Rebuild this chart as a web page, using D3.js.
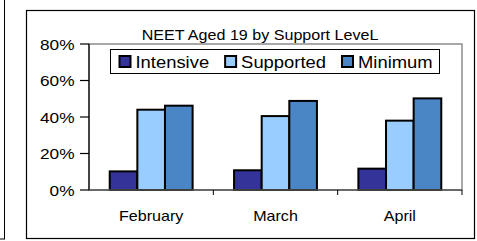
<!DOCTYPE html>
<html>
<head>
<meta charset="utf-8">
<script src="https://cdn.jsdelivr.net/npm/d3@7"></script>
<style>
  html, body { margin: 0; padding: 0; background: #fff; }
  svg { display: block; font-family: "Liberation Sans", Arial, sans-serif; }
</style>
</head>
<body>
<div id="chart"></div>
<script>
// NEET Aged 19 by Support Level - grouped bars

const months = ['February', 'March', 'April'];
const seriesNames = ['Intensive', 'Supported', 'Minimum'];
const intensive = [10.2, 10.8, 11.7];
const supported = [44.0, 40.5, 38.0];
const minimum = [46.2, 48.8, 50.2];
const yTicks = [0, 20, 40, 60, 80];
const titleText = 'NEET Aged 19 by Support LeveL';

const colors = ['#333399', '#99ccff', '#4a86c6'];
const stretch = 1.15; // text in the original is slightly wide

const width = 477, height = 241;
const plot = { left: 89, top: 44, right: 462, bottom: 190 };

const svg = d3.select('#chart').append('svg')
  .attr('width', width)
  .attr('height', height);

// edge of neighbouring chart frame
svg.append('rect')
  .attr('x', -10).attr('y', -10)
  .attr('width', 14.5).attr('height', 249)
  .attr('fill', 'none').attr('stroke', '#000').attr('stroke-width', 1);

// chart frame
svg.append('rect')
  .attr('x', 26.5).attr('y', 10.5)
  .attr('width', 448).attr('height', 228)
  .attr('fill', '#fff').attr('stroke', '#000').attr('stroke-width', 1.2);

const x0 = d3.scaleBand()
  .domain(months)
  .range([plot.left, plot.right])
  .paddingInner(1 / 3)
  .paddingOuter(1 / 6);

const x1 = d3.scaleBand()
  .domain(seriesNames)
  .range([0, x0.bandwidth()]);

const y = d3.scaleLinear()
  .domain([0, 80])
  .range([plot.bottom, plot.top]);

// plot area border (grey)
svg.append('rect')
  .attr('x', plot.left).attr('y', plot.top)
  .attr('width', plot.right - plot.left).attr('height', plot.bottom - plot.top)
  .attr('fill', '#fff').attr('stroke', '#8c8c8c').attr('stroke-width', 1.5);

function stretchedText(g, x, yPos, txt, size, anchor) {
  return g.append('text')
    .attr('transform', `translate(${x},${yPos}) scale(${stretch},1)`)
    .attr('text-anchor', anchor)
    .attr('font-size', size)
    .attr('fill', '#000')
    .text(txt);
}

// bars
const rows = months.map((m, i) => ({
  month: m,
  values: [intensive[i], supported[i], minimum[i]]
}));

const groups = svg.append('g').selectAll('g')
  .data(rows)
  .join('g')
  .attr('transform', d => `translate(${x0(d.month)},0)`);

groups.selectAll('rect')
  .data(d => d.values.map((v, k) => ({ key: seriesNames[k], value: v, k })))
  .join('rect')
  .attr('x', d => x1(d.key))
  .attr('y', d => y(d.value))
  .attr('width', x1.bandwidth())
  .attr('height', d => y(0) - y(d.value))
  .attr('fill', d => colors[d.k])
  .attr('stroke', '#000')
  .attr('stroke-width', 2);

// y axis
const yAxis = svg.append('g');
yAxis.append('line')
  .attr('x1', plot.left).attr('x2', plot.left)
  .attr('y1', plot.top).attr('y2', plot.bottom)
  .attr('stroke', '#000').attr('stroke-width', 1.2);
yAxis.selectAll('line.tick')
  .data(yTicks)
  .join('line')
  .attr('class', 'tick')
  .attr('x1', plot.left - 9).attr('x2', plot.left)
  .attr('y1', d => y(d)).attr('y2', d => y(d))
  .attr('stroke', '#000').attr('stroke-width', 1.2);
yTicks.forEach(t => {
  stretchedText(yAxis, plot.left - 14.5, y(t) + 5.5, t + '%', 15, 'end');
});

// x axis
const xAxis = svg.append('g');
xAxis.append('line')
  .attr('x1', plot.left).attr('x2', plot.right)
  .attr('y1', plot.bottom).attr('y2', plot.bottom)
  .attr('stroke', '#555').attr('stroke-width', 1.5);
const step = x0.step();
xAxis.selectAll('line.tick')
  .data(months)
  .join('line')
  .attr('class', 'tick')
  .attr('x1', (d, i) => plot.left + step * (i + 1))
  .attr('x2', (d, i) => plot.left + step * (i + 1))
  .attr('y1', plot.bottom).attr('y2', plot.bottom + 5)
  .attr('stroke', '#000').attr('stroke-width', 1);
months.forEach(m => {
  stretchedText(xAxis, x0(m) + x0.bandwidth() / 2, 221, m, 14, 'middle');
});

// title
stretchedText(svg, 260, 39.5, titleText, 14, 'middle');

// legend
const legend = svg.append('g');
const legendBox = legend.append('rect')
  .attr('x', 110.5).attr('y', 49.5)
  .attr('width', 329).attr('height', 24)
  .attr('fill', '#fff').attr('stroke', '#000').attr('stroke-width', 1);

let lx = 119.5;
seriesNames.forEach((name, k) => {
  legend.append('rect')
    .attr('x', lx).attr('y', 56)
    .attr('width', 11).attr('height', 11)
    .attr('fill', colors[k])
    .attr('stroke', '#000').attr('stroke-width', 2);
  const t = stretchedText(legend, lx + 16, 67.5, name, 16, 'start');
  const w = t.node().getComputedTextLength() * stretch;
  lx = lx + 16 + w + 16;
});
</script>
</body>
</html>
